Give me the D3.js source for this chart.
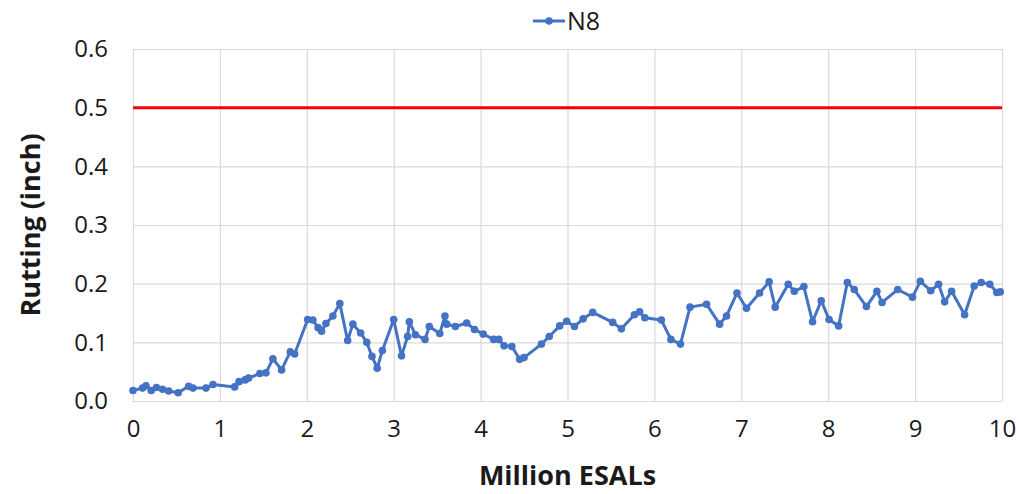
<!DOCTYPE html>
<html>
<head>
<meta charset="utf-8">
<script src="https://cdn.jsdelivr.net/npm/d3@7"></script>
<style>
  html, body { margin: 0; padding: 0; background: #fff; }
  svg text { font-family: "Open Sans", "Liberation Sans", sans-serif; fill: #1a1a1a; }
</style>
</head>
<body>
<svg id="chart" width="1019" height="494"></svg>
<script>
// Cumulative traffic (million ESALs) and measured rutting for section N8
const esals = [0, 0.11, 0.15, 0.21, 0.27, 0.34, 0.41, 0.52, 0.64, 0.69,
  0.84, 0.92, 1.17, 1.22, 1.29, 1.33, 1.46, 1.53, 1.61, 1.71,
  1.81, 1.86, 2.01, 2.07, 2.13, 2.17, 2.22, 2.30, 2.38, 2.47,
  2.53, 2.62, 2.69, 2.75, 2.81, 2.87, 3.00, 3.09, 3.16, 3.18,
  3.25, 3.36, 3.41, 3.53, 3.59, 3.61, 3.71, 3.84, 3.93, 4.03,
  4.15, 4.21, 4.27, 4.36, 4.45, 4.50, 4.70, 4.79, 4.91, 4.99,
  5.08, 5.18, 5.29, 5.52, 5.62, 5.77, 5.83, 5.89, 6.08, 6.19,
  6.30, 6.41, 6.60, 6.75, 6.83, 6.95, 7.06, 7.21, 7.32, 7.39,
  7.54, 7.61, 7.72, 7.82, 7.92, 8.01, 8.12, 8.22, 8.30, 8.44,
  8.56, 8.62, 8.80, 8.97, 9.06, 9.18, 9.27, 9.34, 9.42, 9.57,
  9.68, 9.76, 9.86, 9.94, 9.98];
const rutting = [0.018, 0.022, 0.026, 0.018, 0.023, 0.020, 0.017, 0.014, 0.025, 0.022,
  0.022, 0.028, 0.024, 0.033, 0.036, 0.039, 0.047, 0.048, 0.072, 0.053,
  0.084, 0.080, 0.139, 0.138, 0.125, 0.119, 0.132, 0.145, 0.166, 0.103,
  0.131, 0.116, 0.100, 0.076, 0.056, 0.086, 0.139, 0.077, 0.110, 0.135,
  0.113, 0.105, 0.127, 0.115, 0.145, 0.131, 0.127, 0.133, 0.122, 0.114,
  0.105, 0.105, 0.094, 0.093, 0.071, 0.074, 0.097, 0.110, 0.128, 0.136,
  0.127, 0.140, 0.151, 0.134, 0.123, 0.147, 0.152, 0.142, 0.138, 0.105,
  0.097, 0.160, 0.165, 0.131, 0.145, 0.184, 0.158, 0.184, 0.203, 0.160,
  0.199, 0.187, 0.195, 0.135, 0.171, 0.139, 0.128, 0.202, 0.190, 0.161,
  0.187, 0.168, 0.190, 0.177, 0.204, 0.188, 0.199, 0.169, 0.187, 0.147,
  0.196, 0.202, 0.199, 0.185, 0.186];
const seriesName = "N8";
const rutLimit = 0.5;
const xTicks = [0, 1, 2, 3, 4, 5, 6, 7, 8, 9, 10];
const yTicks = [0, 0.1, 0.2, 0.3, 0.4, 0.5, 0.6];
const xTitle = "Million ESALs";
const yTitle = "Rutting (inch)";

const svg = d3.select("#chart");
const plotL = 133, plotR = 1002, plotT = 49, plotB = 401;

const x = d3.scaleLinear().domain([0, 10]).range([plotL, plotR]);
const y = d3.scaleLinear().domain([0, 0.6]).range([plotB, plotT]);

// grid
const grid = svg.append("g");
grid.selectAll("line.h").data(yTicks).join("line")
  .attr("x1", plotL).attr("x2", plotR)
  .attr("y1", d => y(d) + 0.5).attr("y2", d => y(d) + 0.5)
  .attr("stroke", "#d9d9d9").attr("stroke-width", 1.2);
grid.selectAll("line.v").data(xTicks).join("line")
  .attr("y1", plotT).attr("y2", plotB)
  .attr("x1", d => x(d) + 0.5).attr("x2", d => x(d) + 0.5)
  .attr("stroke", "#d9d9d9").attr("stroke-width", 1.2);

// axes (labels only; lines drawn by grid)
const xAxis = svg.append("g").attr("transform", `translate(0,${plotB})`)
  .call(d3.axisBottom(x).tickValues(xTicks).tickSize(0).tickPadding(19).tickFormat(d3.format("d")));
xAxis.select(".domain").remove();
xAxis.selectAll("text").attr("font-size", 24).style("font-family", '"Open Sans", sans-serif').attr("fill", "#1a1a1a");

const yAxis = svg.append("g").attr("transform", `translate(${plotL},0)`)
  .call(d3.axisLeft(y).tickValues(yTicks).tickSize(0).tickPadding(25).tickFormat(d3.format(".1f")));
yAxis.select(".domain").remove();
yAxis.selectAll("text").attr("font-size", 24).style("font-family", '"Open Sans", sans-serif').attr("fill", "#1a1a1a");

// limit line
svg.append("line")
  .attr("x1", x(0)).attr("x2", x(10))
  .attr("y1", y(rutLimit)).attr("y2", y(rutLimit))
  .attr("stroke", "#ff0000").attr("stroke-width", 3);

// series
const pts = esals.map((v, i) => [v, rutting[i]]);
const blue = "#4472c4";
svg.append("path").datum(pts)
  .attr("fill", "none").attr("stroke", blue).attr("stroke-width", 3)
  .attr("stroke-linejoin", "round")
  .attr("d", d3.line().x(d => x(d[0])).y(d => y(d[1])));
svg.append("g").selectAll("circle").data(pts).join("circle")
  .attr("cx", d => x(d[0])).attr("cy", d => y(d[1])).attr("r", 3.8)
  .attr("fill", blue);

// axis titles
svg.append("text").attr("x", (plotL + plotR) / 2).attr("y", 485)
  .attr("text-anchor", "middle").attr("font-size", 27).attr("font-weight", "bold")
  .text(xTitle);
svg.append("text")
  .attr("transform", `translate(40,${(plotT + plotB) / 2}) rotate(-90)`)
  .attr("text-anchor", "middle").attr("font-size", 27).attr("font-weight", "bold")
  .text(yTitle);

// legend
const lg = svg.append("g");
lg.append("line").attr("x1", 533).attr("x2", 565).attr("y1", 21).attr("y2", 21)
  .attr("stroke", blue).attr("stroke-width", 3);
lg.append("circle").attr("cx", 549).attr("cy", 21).attr("r", 3.8).attr("fill", blue);
lg.append("text").attr("x", 567).attr("y", 21).attr("dy", "0.36em")
  .attr("font-size", 25).text(seriesName);
</script>
</body>
</html>
